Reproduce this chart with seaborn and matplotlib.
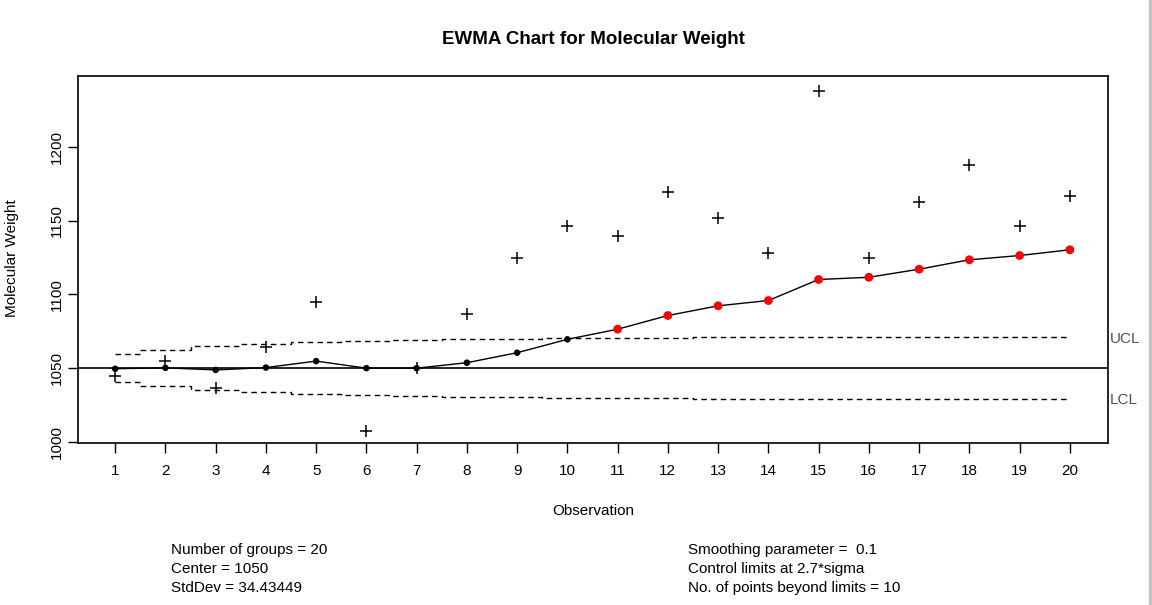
import numpy as np
import pandas as pd
import seaborn as sns
import matplotlib.pyplot as plt
from matplotlib.lines import Line2D

# values
obs = list(range(1, 21))
weight = [1044.6, 1055.1, 1036.3, 1064.3, 1095.2, 1007.5, 1050.0, 1086.9, 1125.0, 1146.3,
          1139.5, 1169.4, 1151.7, 1128.4, 1238.3, 1125.0, 1162.8, 1188.0, 1146.3, 1167.1]
ewma = [1049.5, 1050.1, 1048.7, 1050.3, 1054.7, 1049.9, 1049.9, 1053.6, 1060.4, 1069.5,
        1076.4, 1085.7, 1092.3, 1095.9, 1110.2, 1111.7, 1117.2, 1123.6, 1126.5, 1130.4]
ucl = [1059.3, 1062.5, 1064.7, 1066.3, 1067.5, 1068.4, 1069.0, 1069.5, 1069.9, 1070.2,
       1070.5, 1070.7, 1070.8, 1070.9, 1071.0, 1071.1, 1071.1, 1071.2, 1071.2, 1071.3]
lcl = [1040.7, 1037.5, 1035.3, 1033.7, 1032.5, 1031.6, 1031.0, 1030.5, 1030.1, 1029.8,
       1029.5, 1029.3, 1029.2, 1029.1, 1029.0, 1028.9, 1028.9, 1028.8, 1028.8, 1028.7]
center = 1050
beyond = [False] * 10 + [True] * 10

left_info = ["Number of groups = 20", "Center = 1050", "StdDev = 34.43449"]
right_info = ["Smoothing parameter =  0.1", "Control limits at 2.7*sigma",
              "No. of points beyond limits = 10"]

df = pd.DataFrame({"obs": obs, "weight": weight, "ewma": ewma,
                   "ucl": ucl, "lcl": lcl, "beyond": beyond})

sns.set_style("white")
plt.rcParams["font.family"] = ["Liberation Sans", "DejaVu Sans"]
plt.rcParams["text.color"] = "black"
plt.rcParams["xtick.color"] = "black"
plt.rcParams["ytick.color"] = "black"

fig = plt.figure(figsize=(11.52, 6.05), dpi=100)
ax = fig.add_axes([78 / 1152, 1 - 443 / 605, 1030 / 1152, 367 / 605])

# control limits (step lines) and center line
sns.lineplot(data=df, x="obs", y="ucl", ax=ax, color="black", linestyle=(0, (4, 3)),
             linewidth=1, drawstyle="steps-mid")
sns.lineplot(data=df, x="obs", y="lcl", ax=ax, color="black", linestyle=(0, (4, 3)),
             linewidth=1, drawstyle="steps-mid")
ax.axhline(center, color="black", linewidth=1.2)

# raw observations
sns.scatterplot(data=df, x="obs", y="weight", ax=ax, marker="+", s=70,
                color="black", linewidth=1.1, zorder=3)

# ewma statistic
sns.lineplot(data=df, x="obs", y="ewma", ax=ax, color="black", linewidth=1)
sns.scatterplot(data=df[~df.beyond], x="obs", y="ewma", ax=ax, color="black",
                s=22, edgecolor="none", zorder=4)
sns.scatterplot(data=df[df.beyond], x="obs", y="ewma", ax=ax, color="red",
                s=40, edgecolor="none", zorder=4)

ax.set_xlim(0.26, 20.76)
ax.set_ylim(999, 1248.6)
ax.set_xticks(obs)
ax.set_yticks([1000, 1050, 1100, 1150, 1200])
ax.tick_params(direction="out", length=7, width=1, labelsize=11, color="black",
               labelcolor="black", bottom=True, left=True)
ax.tick_params(axis="x", pad=8)
ax.tick_params(axis="y", pad=3)
for lab in ax.get_yticklabels():
    lab.set_rotation(90)
    lab.set_va("center")
for s in ax.spines.values():
    s.set_color("black")
    s.set_linewidth(1.2)

ax.set_xlabel("")
ax.set_ylabel("")
fig.text(593 / 1152, 1 - 511 / 605, "Observation", ha="center", va="center", fontsize=11)
fig.text(12 / 1152, 1 - 258 / 605, "Molecular Weight", ha="center", va="center",
         rotation=90, fontsize=11)
fig.text(593 / 1152, 1 - 39 / 605, "EWMA Chart for Molecular Weight", ha="center",
         va="center", fontsize=13.5, fontweight="bold")

ax.text(1.002, 1069.5, "UCL", transform=ax.get_yaxis_transform(), ha="left",
        va="center", fontsize=11, color="#505050", clip_on=False)
ax.text(1.002, 1028.0, "LCL", transform=ax.get_yaxis_transform(), ha="left",
        va="center", fontsize=11, color="#505050", clip_on=False)

for i, t in enumerate(left_info):
    fig.text(171 / 1152, 1 - (550 + 19 * i) / 605, t, ha="left", va="center", fontsize=11)
for i, t in enumerate(right_info):
    fig.text(688 / 1152, 1 - (550 + 19 * i) / 605, t, ha="left", va="center", fontsize=11)

fig.add_artist(Line2D([1150 / 1152, 1150 / 1152], [0, 1], transform=fig.transFigure,
                      color="#c4c4c4", linewidth=2.5))

fig.savefig("out.png", dpi=100)
